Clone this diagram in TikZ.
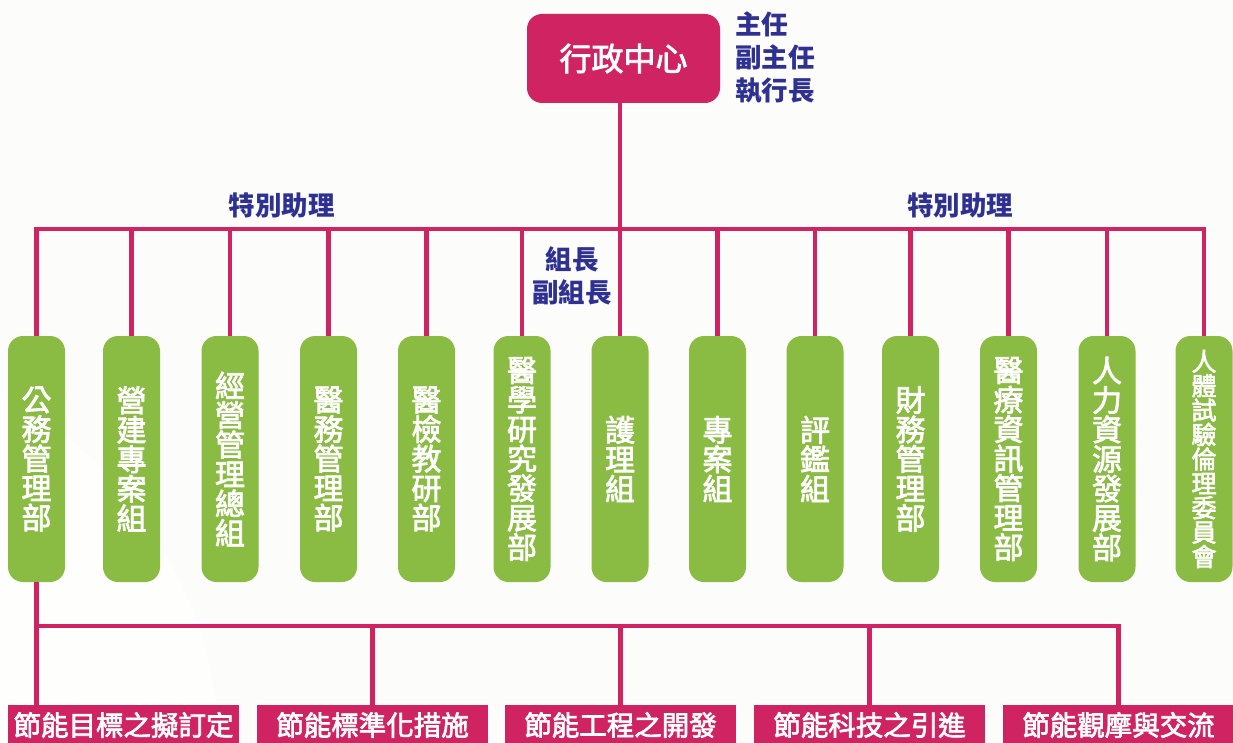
\documentclass[tikz,border=0pt]{standalone}
\usepackage{fontspec}
\setmainfont{Noto Sans CJK TC}
\newfontfamily\medf{Noto Sans CJK TC}[FakeBold=2.5]
\definecolor{mag}{HTML}{D02462}
\definecolor{grn}{HTML}{8ABB42}
\definecolor{navy}{HTML}{2E3192}
\definecolor{bg}{HTML}{FCFCFA}
\tikzset{
  conn/.style={draw=mag, line width=4.6pt, line join=miter},
  gbox/.style={fill=grn, rounded corners=15pt, minimum width=57pt, minimum height=246pt, inner sep=0pt, text=white, align=center, font=\medf\fontsize{30}{29.5}\selectfont},
  gsmall/.style={font=\medf\fontsize{25}{24.4}\selectfont},
  bbox/.style={fill=mag, minimum width=231pt, minimum height=40pt, inner sep=0pt, text=white, font=\medf\fontsize{27.5}{30}\selectfont},
  lbl/.style={text=navy, inner sep=0pt, font=\fontsize{26.5}{33}\selectfont\bfseries}
}
\begin{document}
\begin{tikzpicture}[x=1pt,y=-1pt]
\useasboundingbox (0,0) rectangle (1233,743);
\fill[bg] (0,0) rectangle (1233,743);
\fill[white!60!bg] (-200,760) circle (420pt);
% top
\node[fill=mag, rounded corners=15pt, minimum width=193pt, minimum height=89pt, inner sep=0pt, text=white, font=\medf\fontsize{32}{34}\selectfont] (top) at (623.5,58.5) {行政中心};
\node[lbl, anchor=west, align=left] (heads) at (735,57.5) {主任\\副主任\\執行長};
% green boxes
\node[gbox] (g1) at (36.5,459) {公\\務\\管\\理\\部};
\node[gbox] (g2) at (131.5,459) {營\\建\\專\\案\\組};
\node[gbox] (g3) at (230,459) {經\\營\\管\\理\\總\\組};
\node[gbox] (g4) at (328.5,459) {醫\\務\\管\\理\\部};
\node[gbox] (g5) at (426.5,459) {醫\\檢\\教\\研\\部};
\node[gbox] (g6) at (522,459) {醫\\學\\研\\究\\發\\展\\部};
\node[gbox] (g7) at (620,459) {護\\理\\組};
\node[gbox] (g8) at (717.5,459) {專\\案\\組};
\node[gbox] (g9) at (815,459) {評\\鑑\\組};
\node[gbox] (g10) at (910.5,459) {財\\務\\管\\理\\部};
\node[gbox] (g11) at (1008.5,459) {醫\\療\\資\\訊\\管\\理\\部};
\node[gbox] (g12) at (1107,459) {人\\力\\資\\源\\發\\展\\部};
\node[gbox, gsmall] (g13) at (1204,459) {人\\體\\試\\驗\\倫\\理\\委\\員\\會};
% labels
\node[lbl] (sa1) at (281.5,205) {特別助理};
\node[lbl] (sa2) at (960,205) {特別助理};
\node[lbl, align=center] (lead) at (572,275.5) {組長\\副組長};
% bottom boxes
\node[bbox] (b1) at (123.5,725) {節能目標之擬訂定};
\node[bbox] (b2) at (372.5,725) {節能標準化措施};
\node[bbox] (b3) at (620.5,725) {節能工程之開發};
\node[bbox] (b4) at (869.5,725) {節能科技之引進};
\node[bbox] (b5) at (1118.5,725) {節能觀摩與交流};
% top bus
\coordinate (bus) at (620,229);
\draw[conn] (top.south -| bus) -- (bus);
\draw[conn] (g1.north) |- (bus) -| (g13.north);
\foreach \i in {2,...,12} {\draw[conn] (g\i.north) -- (g\i.north |- bus);}
% bottom bus
\coordinate (bbus) at (620,626);
\draw[conn] (g1.south) -- (g1.south |- b1.north);
\draw[conn] (g1.south |- bbus) -| (b5.north);
\foreach \i in {2,3,4} {\draw[conn] (b\i.north |- bbus) -- (b\i.north);}
\end{tikzpicture}
\end{document}
